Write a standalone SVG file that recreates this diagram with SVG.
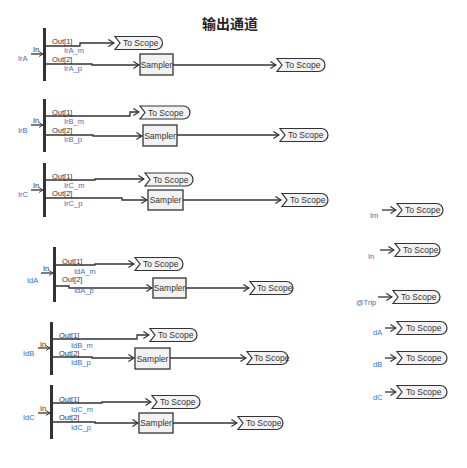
<svg xmlns="http://www.w3.org/2000/svg" width="467" height="468" viewBox="0 0 467 468">
<style>
text{font-family:"Liberation Sans",Arial,sans-serif;opacity:0.99;}
.t{font-size:7.5px;fill:#333;}
.b{font-size:7.5px;fill:#3a6fc0;}
.ts{font-size:8.5px;fill:#333;}
.bar{fill:#333;}
.w{fill:none;stroke:#333;stroke-width:1.3;}
.tag{fill:#f2f2f2;stroke:#333;stroke-width:1.2;}
.smp{fill:#f2f2f2;stroke:#333;stroke-width:1.3;}
.title{font-family:"Noto Sans CJK SC",sans-serif;font-size:14px;font-weight:bold;fill:#222;}
</style>
<defs>
<marker id="ah" viewBox="0 0 10 12" refX="9" refY="6" markerWidth="7" markerHeight="9" markerUnits="userSpaceOnUse" orient="auto">
<path d="M1,1 L9,6 L1,11" fill="none" stroke="#333" stroke-width="1.8"/>
</marker>
<marker id="ahs" viewBox="0 0 10 12" refX="9" refY="6" markerWidth="5" markerHeight="6" markerUnits="userSpaceOnUse" orient="auto">
<path d="M1,1 L9,6 L1,11" fill="none" stroke="#333" stroke-width="1.8"/>
</marker>
</defs>
<rect width="467" height="468" fill="#fff"/>
<text class="title" x="230" y="29" text-anchor="middle">输出通道</text>

<g id="connectors">
<!-- IrA -->
<path class="w" d="M31,54 H43" marker-end="url(#ahs)"/>
<path class="w" d="M46,46 H80 V43 H114" marker-end="url(#ah)"/>
<path class="w" d="M46,64 H92 V65 H139" marker-end="url(#ah)"/>
<path class="w" d="M173,65 H276" marker-end="url(#ah)"/>
<!-- IrB -->
<path class="w" d="M31,125 H43" marker-end="url(#ahs)"/>
<path class="w" d="M46,116 H130 V112 H139" marker-end="url(#ah)"/>
<path class="w" d="M46,135 H93 V136 H142" marker-end="url(#ah)"/>
<path class="w" d="M177,135 H279" marker-end="url(#ah)"/>
<!-- IrC -->
<path class="w" d="M31,190 H43" marker-end="url(#ahs)"/>
<path class="w" d="M46,180 H95 V179 H144" marker-end="url(#ah)"/>
<path class="w" d="M46,198 H122 V200 H147" marker-end="url(#ah)"/>
<path class="w" d="M183,200 H281" marker-end="url(#ah)"/>
<!-- IdA -->
<path class="w" d="M41,273 H53" marker-end="url(#ahs)"/>
<path class="w" d="M56,265 H95 V264 H134" marker-end="url(#ah)"/>
<path class="w" d="M56,286 H69 V288 H152" marker-end="url(#ah)"/>
<path class="w" d="M186,288 H249" marker-end="url(#ah)"/>
<!-- IdB -->
<path class="w" d="M38,348 H50" marker-end="url(#ahs)"/>
<path class="w" d="M53,339 H137 V335 H149" marker-end="url(#ah)"/>
<path class="w" d="M53,357 H92 V358 H134" marker-end="url(#ah)"/>
<path class="w" d="M170,358 H246" marker-end="url(#ah)"/>
<!-- IdC -->
<path class="w" d="M38,413 H50" marker-end="url(#ahs)"/>
<path class="w" d="M53,403 H102 V402 H151" marker-end="url(#ah)"/>
<path class="w" d="M53,422 H95 V423 H138" marker-end="url(#ah)"/>
<path class="w" d="M173,423 H237" marker-end="url(#ah)"/>
<!-- right column -->
<path class="w" d="M382,210 H396" marker-end="url(#ah)"/>
<path class="w" d="M380,250 H394" marker-end="url(#ah)"/>
<path class="w" d="M378,297 H392" marker-end="url(#ah)"/>
<path class="w" d="M385,328 H396" marker-end="url(#ah)"/>
<path class="w" d="M385,358 H396" marker-end="url(#ah)"/>
<path class="w" d="M385,392 H396" marker-end="url(#ah)"/>
</g>

<!-- Demux blocks -->
<g id="demux-IrA">
<rect class="bar" x="43" y="28" width="3" height="53"/>
<text class="t" x="33" y="52">In</text>
<text class="b" x="18" y="61">IrA</text>
<text class="t" x="52" y="44">Out[1]</text>
<text class="b" x="64" y="53">IrA_m</text>
<text class="t" x="52" y="62">Out[2]</text>
<text class="b" x="64" y="71">IrA_p</text>
</g>
<g id="demux-IrB">
<rect class="bar" x="43" y="99" width="3" height="53"/>
<text class="t" x="33" y="123">In</text>
<text class="b" x="18" y="133">IrB</text>
<text class="t" x="52" y="115">Out[1]</text>
<text class="b" x="64" y="124">IrB_m</text>
<text class="t" x="52" y="133">Out[2]</text>
<text class="b" x="64" y="142">IrB_p</text>
</g>
<g id="demux-IrC">
<rect class="bar" x="43" y="163" width="3" height="54"/>
<text class="t" x="33" y="188">In</text>
<text class="b" x="18" y="197">IrC</text>
<text class="t" x="52" y="179">Out[1]</text>
<text class="b" x="64" y="188">IrC_m</text>
<text class="t" x="52" y="196">Out[2]</text>
<text class="b" x="64" y="206">IrC_p</text>
</g>
<g id="demux-IdA">
<rect class="bar" x="53" y="247" width="3" height="55"/>
<text class="t" x="43" y="271">In</text>
<text class="b" x="27" y="283">IdA</text>
<text class="t" x="62" y="264">Out[1]</text>
<text class="b" x="74" y="274">IdA_m</text>
<text class="t" x="62" y="282">Out[2]</text>
<text class="b" x="74" y="293">IdA_p</text>
</g>
<g id="demux-IdB">
<rect class="bar" x="50" y="322" width="3" height="53"/>
<text class="t" x="40" y="347">In</text>
<text class="b" x="23" y="356">IdB</text>
<text class="t" x="59" y="338">Out[1]</text>
<text class="b" x="71" y="348">IdB_m</text>
<text class="t" x="59" y="356">Out[2]</text>
<text class="b" x="71" y="365">IdB_p</text>
</g>
<g id="demux-IdC">
<rect class="bar" x="50" y="385" width="3" height="54"/>
<text class="t" x="40" y="411">In</text>
<text class="b" x="23" y="420">IdC</text>
<text class="t" x="59" y="402">Out[1]</text>
<text class="b" x="71" y="412">IdC_m</text>
<text class="t" x="59" y="420">Out[2]</text>
<text class="b" x="71" y="430">IdC_p</text>
</g>

<!-- Samplers -->
<g id="sampler-IrA"><rect class="smp" x="140" y="54" width="33" height="21"/><text class="ts" x="156.5" y="67.5" text-anchor="middle">Sampler</text></g>
<g id="sampler-IrB"><rect class="smp" x="143" y="125" width="34" height="21"/><text class="ts" x="160" y="138.5" text-anchor="middle">Sampler</text></g>
<g id="sampler-IrC"><rect class="smp" x="148" y="190" width="35" height="20"/><text class="ts" x="165.5" y="203" text-anchor="middle">Sampler</text></g>
<g id="sampler-IdA"><rect class="smp" x="153" y="278" width="33" height="20"/><text class="ts" x="169.5" y="291" text-anchor="middle">Sampler</text></g>
<g id="sampler-IdB"><rect class="smp" x="135" y="348" width="35" height="21"/><text class="ts" x="152.5" y="361.5" text-anchor="middle">Sampler</text></g>
<g id="sampler-IdC"><rect class="smp" x="139" y="413" width="34" height="20"/><text class="ts" x="156" y="426" text-anchor="middle">Sampler</text></g>

<!-- To Scope tags -->
<g id="scope-IrA-m" transform="translate(115,43)"><path class="tag" d="M0,-6.5 H41 A6.5,6.5 0 0 1 41,6.5 H0 L5,0 Z"/><text class="ts" x="8" y="3">To Scope</text></g>
<g id="scope-IrA-p" transform="translate(277,65)"><path class="tag" d="M0,-6.5 H41.5 A6.5,6.5 0 0 1 41.5,6.5 H0 L5,0 Z"/><text class="ts" x="8" y="3">To Scope</text></g>
<g id="scope-IrB-m" transform="translate(140,112.5)"><path class="tag" d="M0,-6.5 H43.5 A6.5,6.5 0 0 1 43.5,6.5 H0 L5,0 Z"/><text class="ts" x="8" y="3">To Scope</text></g>
<g id="scope-IrB-p" transform="translate(280,135)"><path class="tag" d="M0,-6.5 H41.5 A6.5,6.5 0 0 1 41.5,6.5 H0 L5,0 Z"/><text class="ts" x="8" y="3">To Scope</text></g>
<g id="scope-IrC-m" transform="translate(145,179.5)"><path class="tag" d="M0,-6.5 H41.5 A6.5,6.5 0 0 1 41.5,6.5 H0 L5,0 Z"/><text class="ts" x="8" y="3">To Scope</text></g>
<g id="scope-IrC-p" transform="translate(282,200)"><path class="tag" d="M0,-6.5 H39.5 A6.5,6.5 0 0 1 39.5,6.5 H0 L5,0 Z"/><text class="ts" x="8" y="3">To Scope</text></g>
<g id="scope-IdA-m" transform="translate(135,264)"><path class="tag" d="M0,-6.5 H41.5 A6.5,6.5 0 0 1 41.5,6.5 H0 L5,0 Z"/><text class="ts" x="8" y="3">To Scope</text></g>
<g id="scope-IdA-p" transform="translate(250,288)"><path class="tag" d="M0,-6.5 H36.5 A6.5,6.5 0 0 1 36.5,6.5 H0 L5,0 Z"/><text class="ts" x="7" y="3">To Scope</text></g>
<g id="scope-IdB-m" transform="translate(150,335)"><path class="tag" d="M0,-6.5 H40.5 A6.5,6.5 0 0 1 40.5,6.5 H0 L5,0 Z"/><text class="ts" x="8" y="3">To Scope</text></g>
<g id="scope-IdB-p" transform="translate(247,358)"><path class="tag" d="M0,-6.5 H34.5 A6.5,6.5 0 0 1 34.5,6.5 H0 L5,0 Z"/><text class="ts" x="7" y="3">To Scope</text></g>
<g id="scope-IdC-m" transform="translate(152,402)"><path class="tag" d="M0,-6.5 H41.5 A6.5,6.5 0 0 1 41.5,6.5 H0 L5,0 Z"/><text class="ts" x="8" y="3">To Scope</text></g>
<g id="scope-IdC-p" transform="translate(238,423)"><path class="tag" d="M0,-6.5 H38.5 A6.5,6.5 0 0 1 38.5,6.5 H0 L5,0 Z"/><text class="ts" x="8" y="3">To Scope</text></g>

<g id="scope-Im" transform="translate(397,210)"><path class="tag" d="M0,-6.5 H39.5 A6.5,6.5 0 0 1 39.5,6.5 H0 L5,0 Z"/><text class="ts" x="8" y="3">To Scope</text></g>
<text class="b" x="370" y="218">Im</text>
<g id="scope-In" transform="translate(395,250)"><path class="tag" d="M0,-6.5 H38.5 A6.5,6.5 0 0 1 38.5,6.5 H0 L5,0 Z"/><text class="ts" x="8" y="3">To Scope</text></g>
<text class="b" x="368" y="259">In</text>
<g id="scope-Trip" transform="translate(393,297)"><path class="tag" d="M0,-6.5 H40.5 A6.5,6.5 0 0 1 40.5,6.5 H0 L5,0 Z"/><text class="ts" x="8" y="3">To Scope</text></g>
<text class="b" x="356" y="305">@Trip</text>
<g id="scope-dA" transform="translate(397,328)"><path class="tag" d="M0,-6.5 H43.5 A6.5,6.5 0 0 1 43.5,6.5 H0 L5,0 Z"/><text class="ts" x="9" y="3">To Scope</text></g>
<text class="b" x="373" y="335">dA</text>
<g id="scope-dB" transform="translate(397,358)"><path class="tag" d="M0,-6.5 H43.5 A6.5,6.5 0 0 1 43.5,6.5 H0 L5,0 Z"/><text class="ts" x="9" y="3">To Scope</text></g>
<text class="b" x="373" y="367">dB</text>
<g id="scope-dC" transform="translate(397,392)"><path class="tag" d="M0,-6.5 H43.5 A6.5,6.5 0 0 1 43.5,6.5 H0 L5,0 Z"/><text class="ts" x="9" y="3">To Scope</text></g>
<text class="b" x="373" y="400">dC</text>
</svg>
